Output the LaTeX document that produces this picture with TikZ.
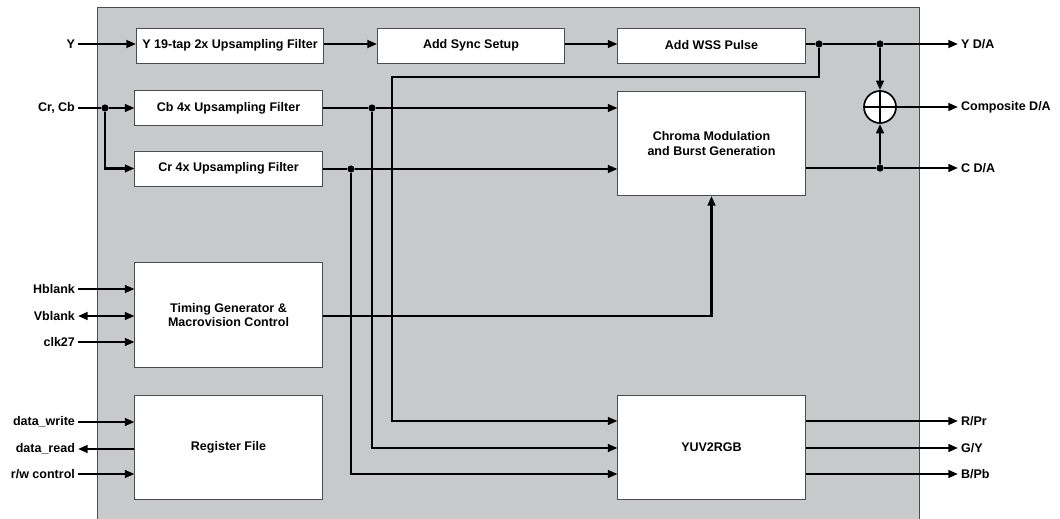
\documentclass[tikz,border=0pt]{standalone}
\usepackage{fontspec}
\setmainfont{Liberation Sans}
\usetikzlibrary{arrows.meta, positioning}
\definecolor{panelgray}{RGB}{200,201,203}
\begin{document}
\begin{tikzpicture}[
            x = 0.025cm, y = -0.025cm,
            > = {Triangle[length=2.4mm,width=1.9mm]},
every node/.style = {font=\bfseries\fontsize{8.9}{10.6}\selectfont},
   block/.style = {draw=black!70, fill=white, line width=0.7pt, align=center,
                   inner sep=0pt, minimum width=4.675cm, minimum height=0.875cm},
  bigblock/.style = {block, minimum height=2.6cm},
     sig/.style = {line width=1.6pt},
     dot/.style = {circle, fill, inner sep=0pt, minimum size=1.8mm},
     lbl/.style = {inner sep=2pt}
                        ]
\useasboundingbox (0,0) rectangle (1060,519);
% panel
    \draw[fill=panelgray, draw=black!70, line width=0.7pt] (97,7) rectangle (919,530);
% blocks
    \node[block] (yfilt)  at (230,45.5)    {Y 19-tap 2x Upsampling Filter};
    \node[block] (cbfilt) at (228.5,108)   {Cb 4x Upsampling Filter};
    \node[block] (crfilt) at (228.5,168.5) {Cr 4x Upsampling Filter};
    \node[block] (sync)   at (471,45.5)    {Add Sync Setup};
    \node[block] (wss)    at (711.5,45.5)  {Add WSS Pulse};
    \node[bigblock] (chroma) at (711.5,143.5) {Chroma Modulation\\and Burst Generation};
    \node[bigblock] (timing) at (228.5,315)   {Timing Generator \&\\Macrovision Control};
    \node[bigblock] (regfile) at (228.5,447.5) {Register File};
    \node[bigblock] (yuv)    at (711.5,447.5) {YUV2RGB};
    \node[circle, draw, fill=white, line width=1.2pt, minimum size=0.8cm, inner sep=0pt] (sum) at (880,107) {};
    \draw[line width=1.2pt] (sum.north) -- (sum.south) (sum.west) -- (sum.east);
% junctions
    \node[dot] (dy1) at (819,44)  {};
    \node[dot] (dy2) at (880,44)  {};
    \node[dot] (dc)  at (880,168) {};
    \node[dot] (dcb) at (372,108) {};
    \node[dot] (dcr) at (351,169) {};
    \node[dot] (din) at (105,108) {};
% inputs
    \node[lbl, anchor=east] (yin)   at (78,44)  {Y};
    \node[lbl, anchor=east] (crcb)  at (78,108) {Cr, Cb};
    \node[lbl, anchor=east] (hbl)   at (78,289) {Hblank};
    \node[lbl, anchor=east] (vbl)   at (78,316) {Vblank};
    \node[lbl, anchor=east] (clk)   at (78,342) {clk27};
    \node[lbl, anchor=east] (dwr)   at (78,422) {data\_write};
    \node[lbl, anchor=east] (drd)   at (78,449) {data\_read};
    \node[lbl, anchor=east] (rwc)   at (78,474) {r/w control};
% outputs
    \node[lbl, anchor=west] (yda)   at (958,44)  {Y D/A};
    \node[lbl, anchor=west] (comp)  at (958,107) {Composite D/A};
    \node[lbl, anchor=west] (cda)   at (958,168) {C D/A};
    \node[lbl, anchor=west] (rpr)   at (958,421) {R/Pr};
    \node[lbl, anchor=west] (gy)    at (958,448) {G/Y};
    \node[lbl, anchor=west] (bpb)   at (958,474) {B/Pb};
% luma path
    \draw[sig,->] (yin) -- (yfilt.west |- yin);
    \draw[sig,->] (yfilt.east |- yin) -- (sync.west |- yin);
    \draw[sig,->] (sync.east |- yin) -- (wss.west |- yin);
    \draw[sig] (wss.east |- yin) -- (dy1) -- (dy2);
    \draw[sig,->] (dy2) -- (yda);
    \draw[sig,->] (dy2) -- (sum);
    \draw[sig,->] (dy1) |- (392,77) |- (yuv.west |- rpr);
% chroma path
    \draw[sig] (crcb) -- (din);
    \draw[sig,->] (din) -- (cbfilt);
    \draw[sig,->] (din) |- (crfilt);
    \draw[sig] (cbfilt) -- (dcb);
    \draw[sig,->] (dcb) -- (chroma.west |- dcb);
    \draw[sig,->] (dcb) |- (yuv.west |- gy);
    \draw[sig] (crfilt.east |- dcr) -- (dcr);
    \draw[sig,->] (dcr) -- (chroma.west |- dcr);
    \draw[sig,->] (dcr) |- (yuv.west |- bpb);
    \draw[sig] (chroma.east |- dc) -- (dc);
    \draw[sig,->] (dc) -- (cda);
    \draw[sig,->] (dc) -- (sum);
    \draw[sig,->] (sum) -- (comp);
% timing and registers
    \draw[sig,->] (hbl) -- (timing.west |- hbl);
    \draw[sig,<->] (vbl) -- (timing.west |- vbl);
    \draw[sig,->] (clk) -- (timing.west |- clk);
    \draw[sig,->] (timing.east |- vbl) -| (chroma.south);
    \draw[sig,->] (dwr) -- (regfile.west |- dwr);
    \draw[sig,->] (regfile.west |- drd) -- (drd);
    \draw[sig,->] (rwc) -- (regfile.west |- rwc);
% RGB outputs
    \draw[sig,->] (yuv.east |- rpr) -- (rpr);
    \draw[sig,->] (yuv.east |- gy) -- (gy);
    \draw[sig,->] (yuv.east |- bpb) -- (bpb);
\end{tikzpicture}
\end{document}
